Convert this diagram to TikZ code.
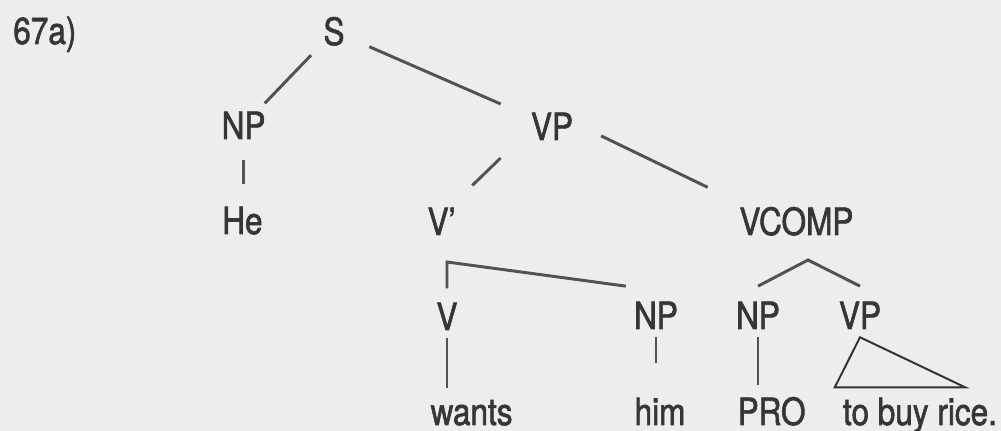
\documentclass[tikz,border=0pt]{standalone}
\usepackage{fontspec}
\setmainfont{TeX Gyre Heros}[FakeStretch=0.84, FakeBold=1.6]
\usepackage{tikz}
\usetikzlibrary{positioning}
\definecolor{paper}{HTML}{EDEDED}
\definecolor{ink}{HTML}{363636}
\definecolor{twig}{HTML}{525252}

\begin{document}
\begin{tikzpicture}[
        treeLabel/.style={text=ink, font=\fontsize{26.7}{32}\selectfont, inner sep=0.2cm, anchor=base},
        branchLine/.style={draw=twig, line width=2.1pt},
        roofLine/.style={draw=black!80, line width=1.4pt, line join=miter}
    ]
        \fill[paper] (0,0) rectangle (25.025,10.775);
        \useasboundingbox (0,0) rectangle (25.025,10.775);

        % Example number
        \node[treeLabel, anchor=base west] (exNum) at (0.125, 9.675) {67a)};

        % Upper part of the tree
        \node[treeLabel] (root) at (8.35, 9.65) {S};
        \node[treeLabel] (subjNP) at (6.09, 7.3) {NP};
        \node[treeLabel] (he) at (6.06, 4.925) {He};
        \node[treeLabel] (topVP) at (13.8, 7.275) {VP};
        \node[treeLabel] (vBar) at (11.04, 4.9) {V’};
        \node[treeLabel] (vcomp) at (19.91, 4.9) {VCOMP};

        % Lower categories
        \node[treeLabel] (verb) at (11.175, 2.525) {V};
        \node[treeLabel] (objNP) at (16.4, 2.55) {NP};
        \node[treeLabel] (proNP) at (18.95, 2.55) {NP};
        \node[treeLabel] (infVP) at (21.5, 2.55) {VP};

        % Words
        \node[treeLabel] (wants) at (11.79, 0.15) {wants};
        \node[treeLabel] (him) at (16.5, 0.15) {him};
        \node[treeLabel] (pro) at (19.29, 0.15) {PRO};
        \node[treeLabel] (infText) at (23.0, 0.15) {to buy rice.};

        % Join points under V' and VCOMP
        \coordinate (vJoin) at (11.175, 4.225);
        \coordinate (compJoin) at (20.2, 4.275);

        % Branches
        \draw[branchLine, shorten <=0.15cm] (root) -- (subjNP);
        \draw[branchLine, shorten <=0.45cm, shorten >=0.6cm] (root) -- (topVP);
        \draw[branchLine, shorten <=0.33cm, shorten >=0.35cm] (subjNP.south) -- (subjNP.south |- he.north);
        \draw[branchLine, shorten <=0.35cm, shorten >=0.5cm] ([xshift=-0.3cm]topVP.south west) -- ([xshift=-0.15cm]vBar.north east);
        \draw[branchLine, shorten <=0.55cm, shorten >=0.65cm] (topVP.east) -- (vcomp.north west);
        \draw[branchLine, shorten <=0.15cm] (verb.north) -- (vJoin) -- ([yshift=0.18cm]objNP.north west);
        \draw[branchLine] ([yshift=0.18cm]proNP.north) -- (compJoin) -- ([yshift=0.18cm]infVP.north);
        \draw[branchLine, shorten >=0.08cm] (verb.south) -- (verb.south |- wants.north);
        \draw[branchLine, shorten >=0.65cm] (objNP.south) -- (objNP.south |- him.north);
        \draw[branchLine, shorten >=0.08cm] (proNP.south) -- (proNP.south |- pro.north);

        % Roof over the infinitive
        \draw[roofLine] (infVP.south) -- ([yshift=0.05cm]infText.north west) -- ([xshift=-1cm, yshift=0.05cm]infText.north east) -- cycle;
    \end{tikzpicture}
\end{document}
